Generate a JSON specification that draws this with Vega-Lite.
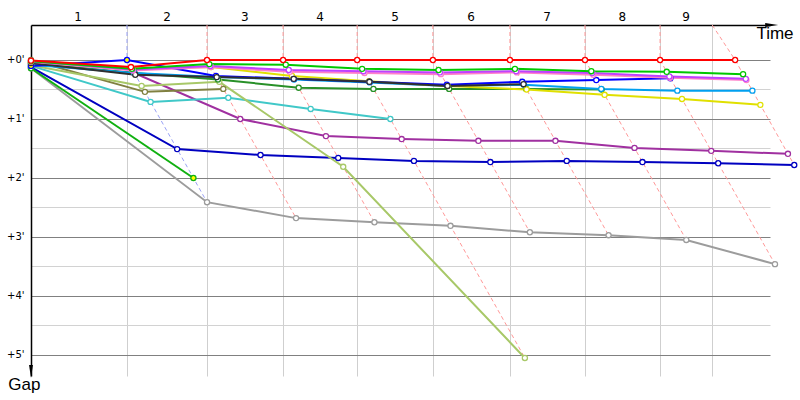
{
  "$schema": "https://vega.github.io/schema/vega-lite/v6.json",
  "width": 739,
  "height": 351,
  "autosize": {"type": "none"},
  "padding": {"left": 31, "top": 25, "right": 30, "bottom": 24},
  "background": "white",
  "config": {"view": {"stroke": null}, "font": "DejaVu Sans"},
  "datasets": {
    "cars": [
      {"car": "Car 01", "lap": 0, "time": 0, "gap": 0.14},
      {"car": "Car 01", "lap": 1, "time": 5.30, "gap": 2.41},
      {"car": "Car 01", "lap": 2, "time": 7.98, "gap": 2.68},
      {"car": "Car 01", "lap": 3, "time": 10.34, "gap": 2.75},
      {"car": "Car 01", "lap": 4, "time": 12.63, "gap": 2.81},
      {"car": "Car 01", "lap": 5, "time": 15.02, "gap": 2.92},
      {"car": "Car 01", "lap": 6, "time": 17.39, "gap": 2.97},
      {"car": "Car 01", "lap": 7, "time": 19.73, "gap": 3.05},
      {"car": "Car 01", "lap": 8, "time": 22.40, "gap": 3.46},
      {"car": "Car 02", "lap": 0, "time": 0, "gap": 0.12},
      {"car": "Car 02", "lap": 1, "time": 4.40, "gap": 1.51},
      {"car": "Car 02", "lap": 2, "time": 6.91, "gap": 1.61},
      {"car": "Car 02", "lap": 3, "time": 9.25, "gap": 1.66},
      {"car": "Car 02", "lap": 4, "time": 11.53, "gap": 1.71},
      {"car": "Car 02", "lap": 5, "time": 13.83, "gap": 1.73},
      {"car": "Car 02", "lap": 6, "time": 16.13, "gap": 1.71},
      {"car": "Car 02", "lap": 7, "time": 18.41, "gap": 1.73},
      {"car": "Car 02", "lap": 8, "time": 20.69, "gap": 1.75},
      {"car": "Car 02", "lap": 9, "time": 22.98, "gap": 1.78},
      {"car": "Car 03", "lap": 0, "time": 0, "gap": 0.14},
      {"car": "Car 03", "lap": 1, "time": 4.89, "gap": 2.00},
      {"car": "Car 04", "lap": 0, "time": 0, "gap": 0.07},
      {"car": "Car 04", "lap": 1, "time": 3.11, "gap": 0.22},
      {"car": "Car 04", "lap": 2, "time": 6.30, "gap": 1.00},
      {"car": "Car 04", "lap": 3, "time": 8.88, "gap": 1.29},
      {"car": "Car 04", "lap": 4, "time": 11.16, "gap": 1.34},
      {"car": "Car 04", "lap": 5, "time": 13.47, "gap": 1.37},
      {"car": "Car 04", "lap": 6, "time": 15.79, "gap": 1.37},
      {"car": "Car 04", "lap": 7, "time": 18.17, "gap": 1.49},
      {"car": "Car 04", "lap": 8, "time": 20.48, "gap": 1.54},
      {"car": "Car 04", "lap": 9, "time": 22.79, "gap": 1.59},
      {"car": "Car 05", "lap": 0, "time": 0, "gap": 0.10},
      {"car": "Car 05", "lap": 1, "time": 3.60, "gap": 0.71},
      {"car": "Car 05", "lap": 2, "time": 5.94, "gap": 0.64},
      {"car": "Car 05", "lap": 3, "time": 8.42, "gap": 0.83},
      {"car": "Car 05", "lap": 4, "time": 10.82, "gap": 1.00},
      {"car": "Car 06", "lap": 0, "time": 0, "gap": 0.0},
      {"car": "Car 06", "lap": 1, "time": 3.43, "gap": 0.54},
      {"car": "Car 06", "lap": 2, "time": 5.79, "gap": 0.49},
      {"car": "Car 07", "lap": 0, "time": 0, "gap": 0.09},
      {"car": "Car 07", "lap": 1, "time": 3.33, "gap": 0.44},
      {"car": "Car 07", "lap": 2, "time": 5.67, "gap": 0.37},
      {"car": "Car 07", "lap": 3, "time": 9.40, "gap": 1.81},
      {"car": "Car 07", "lap": 4, "time": 14.87, "gap": 5.05},
      {"car": "Car 08", "lap": 0, "time": 0, "gap": 0.05},
      {"car": "Car 08", "lap": 1, "time": 3.11, "gap": 0.22},
      {"car": "Car 08", "lap": 2, "time": 5.63, "gap": 0.33},
      {"car": "Car 08", "lap": 3, "time": 8.06, "gap": 0.47},
      {"car": "Car 08", "lap": 4, "time": 10.31, "gap": 0.49},
      {"car": "Car 08", "lap": 5, "time": 12.59, "gap": 0.49},
      {"car": "Car 08", "lap": 6, "time": 14.91, "gap": 0.49},
      {"car": "Car 08", "lap": 7, "time": 17.18, "gap": 0.50},
      {"car": "Car 09", "lap": 0, "time": 0, "gap": 0.08},
      {"car": "Car 09", "lap": 1, "time": 3.11, "gap": 0.22},
      {"car": "Car 09", "lap": 2, "time": 5.59, "gap": 0.29},
      {"car": "Car 09", "lap": 3, "time": 7.92, "gap": 0.33},
      {"car": "Car 09", "lap": 4, "time": 10.20, "gap": 0.38},
      {"car": "Car 09", "lap": 5, "time": 12.54, "gap": 0.44},
      {"car": "Car 09", "lap": 6, "time": 14.84, "gap": 0.42},
      {"car": "Car 09", "lap": 7, "time": 17.17, "gap": 0.49},
      {"car": "Car 09", "lap": 8, "time": 19.46, "gap": 0.52},
      {"car": "Car 09", "lap": 9, "time": 21.72, "gap": 0.52},
      {"car": "Car 10", "lap": 0, "time": 0, "gap": 0.04},
      {"car": "Car 10", "lap": 1, "time": 3.04, "gap": 0.15},
      {"car": "Car 10", "lap": 2, "time": 5.42, "gap": 0.12},
      {"car": "Car 10", "lap": 3, "time": 7.86, "gap": 0.27},
      {"car": "Car 10", "lap": 4, "time": 10.18, "gap": 0.36},
      {"car": "Car 10", "lap": 5, "time": 12.54, "gap": 0.44},
      {"car": "Car 10", "lap": 6, "time": 14.92, "gap": 0.50},
      {"car": "Car 10", "lap": 7, "time": 17.27, "gap": 0.59},
      {"car": "Car 10", "lap": 8, "time": 19.60, "gap": 0.66},
      {"car": "Car 10", "lap": 9, "time": 21.96, "gap": 0.76},
      {"car": "Car 11", "lap": 0, "time": 0, "gap": 0.10},
      {"car": "Car 11", "lap": 1, "time": 2.89, "gap": 0},
      {"car": "Car 11", "lap": 2, "time": 5.57, "gap": 0.27},
      {"car": "Car 11", "lap": 3, "time": 7.91, "gap": 0.32},
      {"car": "Car 11", "lap": 4, "time": 10.19, "gap": 0.37},
      {"car": "Car 11", "lap": 5, "time": 12.52, "gap": 0.42},
      {"car": "Car 11", "lap": 6, "time": 14.79, "gap": 0.37},
      {"car": "Car 11", "lap": 7, "time": 17.02, "gap": 0.34},
      {"car": "Car 11", "lap": 8, "time": 19.25, "gap": 0.31},
      {"car": "Car 12", "lap": 0, "time": 0, "gap": 0.05},
      {"car": "Car 12", "lap": 1, "time": 3.14, "gap": 0.25},
      {"car": "Car 12", "lap": 2, "time": 5.59, "gap": 0.29},
      {"car": "Car 12", "lap": 3, "time": 7.91, "gap": 0.32},
      {"car": "Car 12", "lap": 4, "time": 10.19, "gap": 0.37},
      {"car": "Car 12", "lap": 5, "time": 12.54, "gap": 0.44},
      {"car": "Car 12", "lap": 6, "time": 14.83, "gap": 0.41},
      {"car": "Car 13", "lap": 0, "time": 0, "gap": 0.03},
      {"car": "Car 13", "lap": 1, "time": 3.07, "gap": 0.18},
      {"car": "Car 13", "lap": 2, "time": 5.42, "gap": 0.12},
      {"car": "Car 13", "lap": 3, "time": 7.79, "gap": 0.20},
      {"car": "Car 13", "lap": 4, "time": 10.04, "gap": 0.22},
      {"car": "Car 13", "lap": 5, "time": 12.34, "gap": 0.24},
      {"car": "Car 13", "lap": 6, "time": 14.63, "gap": 0.21},
      {"car": "Car 13", "lap": 7, "time": 16.93, "gap": 0.25},
      {"car": "Car 13", "lap": 8, "time": 19.24, "gap": 0.30},
      {"car": "Car 13", "lap": 9, "time": 21.54, "gap": 0.34},
      {"car": "Car 14", "lap": 0, "time": 0, "gap": 0.02},
      {"car": "Car 14", "lap": 1, "time": 3.05, "gap": 0.16},
      {"car": "Car 14", "lap": 2, "time": 5.40, "gap": 0.10},
      {"car": "Car 14", "lap": 3, "time": 7.76, "gap": 0.17},
      {"car": "Car 14", "lap": 4, "time": 10.01, "gap": 0.19},
      {"car": "Car 14", "lap": 5, "time": 12.31, "gap": 0.21},
      {"car": "Car 14", "lap": 6, "time": 14.61, "gap": 0.19},
      {"car": "Car 14", "lap": 7, "time": 16.90, "gap": 0.22},
      {"car": "Car 14", "lap": 8, "time": 19.22, "gap": 0.28},
      {"car": "Car 14", "lap": 9, "time": 21.52, "gap": 0.32},
      {"car": "Car 15", "lap": 0, "time": 0, "gap": 0.02},
      {"car": "Car 15", "lap": 1, "time": 3.04, "gap": 0.15},
      {"car": "Car 15", "lap": 2, "time": 5.37, "gap": 0.07},
      {"car": "Car 15", "lap": 3, "time": 7.67, "gap": 0.08},
      {"car": "Car 15", "lap": 4, "time": 9.97, "gap": 0.15},
      {"car": "Car 15", "lap": 5, "time": 12.27, "gap": 0.17},
      {"car": "Car 15", "lap": 6, "time": 14.57, "gap": 0.15},
      {"car": "Car 15", "lap": 7, "time": 16.87, "gap": 0.19},
      {"car": "Car 15", "lap": 8, "time": 19.14, "gap": 0.20},
      {"car": "Car 15", "lap": 9, "time": 21.44, "gap": 0.24},
      {"car": "Car 16", "lap": 0, "time": 0, "gap": 0.01},
      {"car": "Car 16", "lap": 1, "time": 3.01, "gap": 0.12},
      {"car": "Car 16", "lap": 2, "time": 5.30, "gap": 0},
      {"car": "Car 16", "lap": 3, "time": 7.59, "gap": 0},
      {"car": "Car 16", "lap": 4, "time": 9.82, "gap": 0},
      {"car": "Car 16", "lap": 5, "time": 12.10, "gap": 0},
      {"car": "Car 16", "lap": 6, "time": 14.42, "gap": 0},
      {"car": "Car 16", "lap": 7, "time": 16.68, "gap": 0},
      {"car": "Car 16", "lap": 8, "time": 18.94, "gap": 0},
      {"car": "Car 16", "lap": 9, "time": 21.20, "gap": 0}
    ],
    "laplines": [
      {"lap": 1, "time": 2.89, "gap": -0.593}, {"lap": 1, "time": 2.89, "gap": 0}, {"lap": 1, "time": 5.30, "gap": 2.41},
      {"lap": 2, "time": 5.30, "gap": -0.593}, {"lap": 2, "time": 5.30, "gap": 0}, {"lap": 2, "time": 7.98, "gap": 2.68},
      {"lap": 3, "time": 7.59, "gap": -0.593}, {"lap": 3, "time": 7.59, "gap": 0}, {"lap": 3, "time": 10.34, "gap": 2.75},
      {"lap": 4, "time": 9.82, "gap": -0.593}, {"lap": 4, "time": 9.82, "gap": 0}, {"lap": 4, "time": 14.87, "gap": 5.05},
      {"lap": 5, "time": 12.10, "gap": -0.593}, {"lap": 5, "time": 12.10, "gap": 0}, {"lap": 5, "time": 15.02, "gap": 2.92},
      {"lap": 6, "time": 14.42, "gap": -0.593}, {"lap": 6, "time": 14.42, "gap": 0}, {"lap": 6, "time": 17.39, "gap": 2.97},
      {"lap": 7, "time": 16.68, "gap": -0.593}, {"lap": 7, "time": 16.68, "gap": 0}, {"lap": 7, "time": 19.73, "gap": 3.05},
      {"lap": 8, "time": 18.94, "gap": -0.593}, {"lap": 8, "time": 18.94, "gap": 0}, {"lap": 8, "time": 22.40, "gap": 3.46},
      {"lap": 9, "time": 20.51, "gap": -0.593}, {"lap": 9, "time": 21.20, "gap": 0}, {"lap": 9, "time": 22.98, "gap": 1.78}
    ],
    "laplabels": [
      {"lap": "1", "time": 1.42, "gap": -0.73}, {"lap": "2", "time": 4.10, "gap": -0.73}, {"lap": "3", "time": 6.44, "gap": -0.73},
      {"lap": "4", "time": 8.70, "gap": -0.73}, {"lap": "5", "time": 10.96, "gap": -0.73}, {"lap": "6", "time": 13.25, "gap": -0.73},
      {"lap": "7", "time": 15.54, "gap": -0.73}, {"lap": "8", "time": 17.80, "gap": -0.73}, {"lap": "9", "time": 19.72, "gap": -0.73}
    ],
    "titles": [
      {"label": "Time", "time": 22.4, "gap": -0.44},
      {"label": "Gap", "time": -0.2, "gap": 5.51}
    ],
    "arrowTime": [{"time": 22.3, "gap": -0.593}],
    "arrowGap": [{"time": 0, "gap": 5.28}]
  },
  "encoding": {
    "x": {
      "field": "time", "type": "quantitative",
      "scale": {"domain": [0, 22.25], "nice": false, "zero": false},
      "axis": {
        "orient": "top", "labels": false, "ticks": false, "title": null,
        "domainColor": "black", "domainWidth": 1.5,
        "grid": true, "gridColor": "#cfcfcf", "gridWidth": 1,
        "values": [2.89, 5.30, 7.59, 9.82, 12.10, 14.42, 16.68, 18.94, 20.51]
      }
    },
    "y": {
      "field": "gap", "type": "quantitative",
      "scale": {"domain": [-0.593, 5.356], "reverse": true, "nice": false, "zero": false},
      "axis": {
        "orient": "left", "ticks": false, "title": null,
        "values": [0, 0.5, 1, 1.5, 2, 2.5, 3, 3.5, 4, 4.5, 5],
        "labelExpr": "datum.value % 1 === 0 ? '+' + datum.value + \"'\" : ''",
        "labelFont": "DejaVu Sans", "labelFontSize": 10, "labelColor": "black", "labelPadding": 7,
        "domainColor": "black", "domainWidth": 1.5,
        "grid": true, "gridWidth": 1,
        "gridColor": {"condition": {"test": "datum.value % 1 === 0", "value": "#808080"}, "value": "#d2d2d2"}
      }
    }
  },
  "layer": [
    {
      "data": {"name": "laplines"},
      "mark": {"type": "line", "strokeWidth": 1, "strokeDash": [4, 3]},
      "encoding": {
        "detail": {"field": "lap", "type": "nominal"},
        "order": {"field": "gap", "type": "quantitative"},
        "color": {"condition": {"test": "datum.lap === 1", "value": "#9aa2f6"}, "value": "#ff9898"}
      }
    },
    {
      "data": {"name": "cars"},
      "mark": {"type": "line", "strokeWidth": 2},
      "encoding": {
        "order": {"field": "lap", "type": "quantitative"},
        "color": {
          "field": "car", "type": "nominal", "legend": null,
          "scale": {
            "domain": ["Car 01", "Car 02", "Car 03", "Car 04", "Car 05", "Car 06", "Car 07", "Car 08", "Car 09", "Car 10", "Car 11", "Car 12", "Car 13", "Car 14", "Car 15", "Car 16"],
            "range": ["#9c9c9c", "#0000c0", "#10b010", "#a030a0", "#40c8c8", "#808040", "#a8c868", "#289028", "#00a0f0", "#e0e000", "#0000ff", "#303030", "#ff80c8", "#c040ff", "#00c800", "#ff0000"]
          }
        }
      }
    },
    {
      "data": {"name": "cars"},
      "mark": {"type": "point", "shape": "circle", "filled": true, "size": 26, "strokeWidth": 1.3, "opacity": 1},
      "encoding": {
        "stroke": {
          "field": "car", "type": "nominal", "legend": null,
          "scale": {
            "domain": ["Car 01", "Car 02", "Car 03", "Car 04", "Car 05", "Car 06", "Car 07", "Car 08", "Car 09", "Car 10", "Car 11", "Car 12", "Car 13", "Car 14", "Car 15", "Car 16"],
            "range": ["#9c9c9c", "#0000c0", "#10b010", "#a030a0", "#40c8c8", "#808040", "#a8c868", "#289028", "#00a0f0", "#e0e000", "#0000ff", "#303030", "#ff80c8", "#c040ff", "#00c800", "#ff0000"]
          }
        },
        "fill": {
          "condition": {"test": "(datum.car === 'Car 11' && datum.lap <= 1) || (datum.car === 'Car 03' && datum.lap === 1)", "value": "#ffff00"},
          "value": "white"
        }
      }
    },
    {
      "data": {"name": "arrowTime"},
      "mark": {"type": "point", "shape": "M-1,-0.3L1,0L-1,0.3Z", "filled": true, "size": 169, "color": "black", "opacity": 1}
    },
    {
      "data": {"name": "arrowGap"},
      "mark": {"type": "point", "shape": "M-0.3,-1L0,1L0.3,-1Z", "filled": true, "size": 169, "color": "black", "opacity": 1}
    },
    {
      "data": {"name": "laplabels"},
      "mark": {"type": "text", "font": "DejaVu Sans", "fontSize": 12, "color": "black", "baseline": "middle", "align": "center"},
      "encoding": {"text": {"field": "lap", "type": "nominal"}}
    },
    {
      "data": {"name": "titles"},
      "mark": {"type": "text", "font": "Liberation Sans", "fontSize": 17, "color": "black", "baseline": "middle"},
      "encoding": {
        "text": {"field": "label", "type": "nominal"},
        "align": {"condition": {"test": "datum.label === 'Time'", "value": "right"}, "value": "center"}
      }
    }
  ]
}
